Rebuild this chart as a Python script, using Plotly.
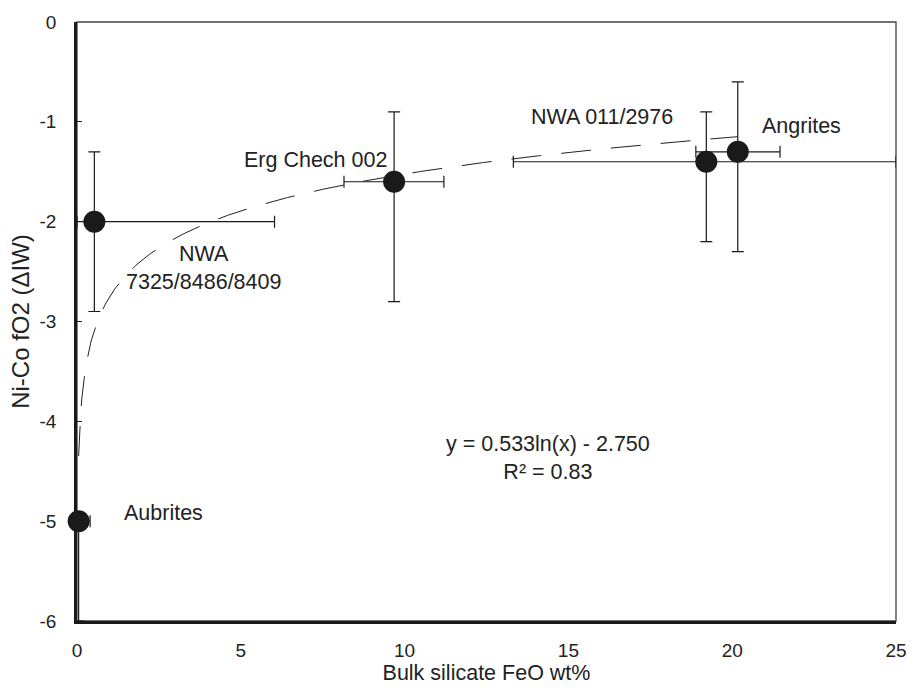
import numpy as np
import plotly.graph_objects as go

# ---- data ----
names = ["Aubrites", "NWA 7325/8486/8409", "Erg Chech 002", "NWA 011/2976", "Angrites"]
feo = [0.05, 0.53, 9.68, 19.21, 20.17]
fo2 = [-5.0, -2.0, -1.6, -1.4, -1.3]
feo_err_minus = [0.05, 0.53, 1.53, 5.89, 1.28]
feo_err_plus = [0.35, 5.5, 1.52, 5.79, 1.29]
fo2_err_minus = [1.0, 0.9, 1.2, 0.8, 1.0]
fo2_err_plus = [0.0, 0.7, 0.7, 0.5, 0.7]
fit_a, fit_b = 0.533, -2.750

x_ticks = [0, 5, 10, 15, 20, 25]
y_ticks = [0, -1, -2, -3, -4, -5, -6]

FONT = "Liberation Sans, Arial, sans-serif"
INK = "#1a1a1a"
TXT = "#222222"

fig = go.Figure()

# logarithmic trendline over the data range
xf = np.linspace(min(feo), max(feo), 600)
fig.add_trace(go.Scatter(
    x=xf, y=fit_a * np.log(xf) + fit_b, mode="lines",
    line=dict(color="#222222", width=1, dash="30px,20px"),
    hoverinfo="skip", showlegend=False))

fig.add_trace(go.Scatter(
    x=feo, y=fo2, mode="markers", text=names,
    marker=dict(size=22, color=INK),
    error_x=dict(type="data", symmetric=False, array=feo_err_plus,
                 arrayminus=feo_err_minus, color=INK, thickness=1.2, width=6),
    error_y=dict(type="data", symmetric=False, array=fo2_err_plus,
                 arrayminus=fo2_err_minus, color=INK, thickness=1.2, width=6),
    cliponaxis=False, showlegend=False))

ann_font = dict(family=FONT, size=21.5, color=TXT)
labels = [
    ("Aubrites", 2.65, -4.92),
    ("NWA<br>7325/8486/8409", 3.87, -2.46),
    ("Erg Chech 002", 7.27, -1.38),
    ("NWA 011/2976", 16.02, -0.95),
    ("Angrites", 22.11, -1.04),
    ("y = 0.533ln(x) - 2.750<br>R² = 0.83", 14.37, -4.37),
]
for t, x, y in labels:
    fig.add_annotation(x=x, y=y, text=t, showarrow=False, font=ann_font,
                       xanchor="center", yanchor="middle", align="center")

fig.update_xaxes(
    range=[0, 25], tickvals=x_ticks, ticktext=[str(v) for v in x_ticks],
    showgrid=False, zeroline=False, showline=True, linecolor=INK, linewidth=2.5,
    mirror=False, ticks="", tickfont=dict(family=FONT, size=19, color=TXT),
    ticklabelstandoff=10,
    title=dict(text="Bulk silicate FeO wt%", font=dict(family=FONT, size=21.5, color=TXT),
               standoff=2))
fig.update_yaxes(
    range=[-6, 0], tickvals=y_ticks, ticktext=[str(v) for v in y_ticks],
    showgrid=False, zeroline=False, showline=True, linecolor=INK, linewidth=2.5,
    ticks="inside", ticklen=5, tickcolor=INK, tickwidth=1,
    tickfont=dict(family=FONT, size=19, color=TXT), ticklabelstandoff=14,
    title=dict(text="Ni-Co fO2 (ΔIW)", font=dict(family=FONT, size=24, color=TXT),
               standoff=4))

# thin frame on top and right
fig.add_shape(type="rect", xref="paper", yref="paper", x0=0, y0=0, x1=1, y1=1,
              line=dict(color="#444444", width=1.3), layer="below")

fig.update_layout(
    width=919, height=690, paper_bgcolor="white", plot_bgcolor="white",
    margin=dict(l=77, r=14, t=21, b=64), font=dict(family=FONT))

fig.write_html("out.html")
